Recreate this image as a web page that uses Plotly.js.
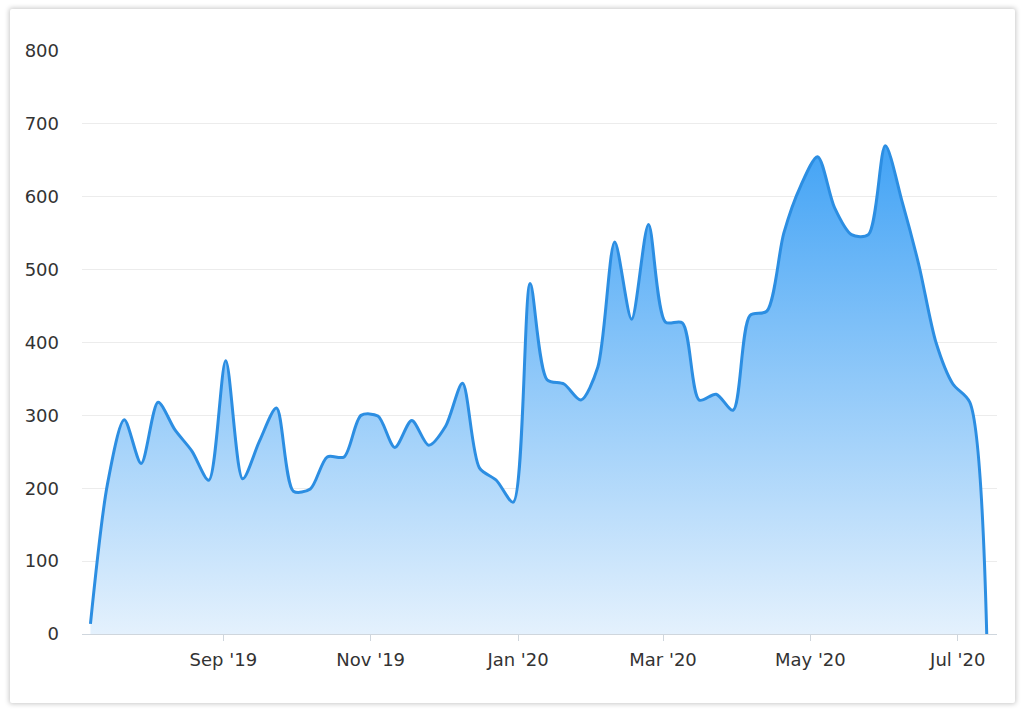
<!DOCTYPE html>
<html>
<head>
<meta charset="utf-8">
<script src="https://cdn.plot.ly/plotly-3.0.1.min.js"></script>
<style>
  html, body { margin: 0; padding: 0; background: #ffffff; width: 1024px; height: 716px; overflow: hidden; }
  #card { position: absolute; left: 10px; top: 9px; width: 1005px; height: 694px; background: #fff;
          box-shadow: 0 0 5px 1px rgba(0,0,0,0.22); border-radius: 2px; }
  #chart { position: absolute; left: 0; top: 0; width: 1024px; height: 716px; }
</style>
</head>
<body>
<div id="card"></div>
<div id="chart"></div>
<script>
// Weekly values, Jul 2019 - Jul 2020
const weeks = [
  '2019-07-08','2019-07-15','2019-07-22','2019-07-29','2019-08-05','2019-08-12','2019-08-19','2019-08-26',
  '2019-09-02','2019-09-09','2019-09-16','2019-09-23','2019-09-30','2019-10-07','2019-10-14','2019-10-21',
  '2019-10-28','2019-11-04','2019-11-11','2019-11-18','2019-11-25','2019-12-02','2019-12-09','2019-12-16',
  '2019-12-23','2019-12-30','2020-01-06','2020-01-13','2020-01-20','2020-01-27','2020-02-03','2020-02-10',
  '2020-02-17','2020-02-24','2020-03-02','2020-03-09','2020-03-16','2020-03-23','2020-03-30','2020-04-06',
  '2020-04-13','2020-04-20','2020-04-27','2020-05-04','2020-05-11','2020-05-18','2020-05-25','2020-06-01',
  '2020-06-08','2020-06-15','2020-06-22','2020-06-29','2020-07-06','2020-07-13'
];
const counts = [
  14, 205, 294, 234, 318, 280, 251, 211,
  375, 213, 265, 310, 196, 199, 243, 243,
  300, 299, 256, 293, 259, 285, 344, 228,
  211, 181, 481, 349, 343, 321, 366, 538,
  432, 562, 428, 427, 321, 329, 307, 437,
  443, 550, 615, 655, 585, 548, 548, 670,
  593, 505, 400, 343, 318, 0
];
const monthTicks = ['2019-09-01','2019-11-01','2020-01-01','2020-03-01','2020-05-01','2020-07-01'];
const monthLabels = ["Sep '19","Nov '19","Jan '20","Mar '20","May '20","Jul '20"];
const yTicks = [0,100,200,300,400,500,600,700,800];

const font = {family: 'DejaVu Sans, sans-serif', size: 18, color: '#333333'};

const trace = {
  type: 'scatter',
  mode: 'lines',
  x: weeks,
  y: counts,
  line: {color: 'rgb(44,142,226)', width: 3, shape: 'spline', smoothing: 0.8},
  fill: 'tozeroy',
  fillgradient: {
    type: 'vertical',
    start: 0,
    stop: 680,
    colorscale: [[0, 'rgb(228,241,253)'], [1, 'rgb(64,162,245)']]
  },
  hoverinfo: 'skip'
};

const layout = {
  width: 1024,
  height: 716,
  margin: {l: 82, r: 27, t: 51, b: 82},
  paper_bgcolor: 'rgba(0,0,0,0)',
  plot_bgcolor: 'rgba(0,0,0,0)',
  showlegend: false,
  font: font,
  xaxis: {
    type: 'date',
    range: ['2019-07-04 12:00', '2020-07-17 06:00'],
    tickmode: 'array',
    tickvals: monthTicks,
    ticktext: monthLabels,
    ticks: 'outside',
    ticklen: 6,
    tickwidth: 1,
    tickcolor: '#cfd6dd',
    ticklabelstandoff: 3,
    showline: true,
    linecolor: '#cfd6dd',
    linewidth: 1,
    showgrid: false,
    zeroline: false,
    tickfont: font
  },
  yaxis: {
    range: [0, 800],
    tickmode: 'array',
    tickvals: yTicks,
    ticks: '',
    ticklabelstandoff: 22,
    showgrid: true,
    gridcolor: '#ececec',
    gridwidth: 1,
    showline: false,
    zeroline: false,
    tickfont: font
  }
};

Plotly.newPlot('chart', [trace], layout, {staticPlot: true, displayModeBar: false});
</script>
</body>
</html>
